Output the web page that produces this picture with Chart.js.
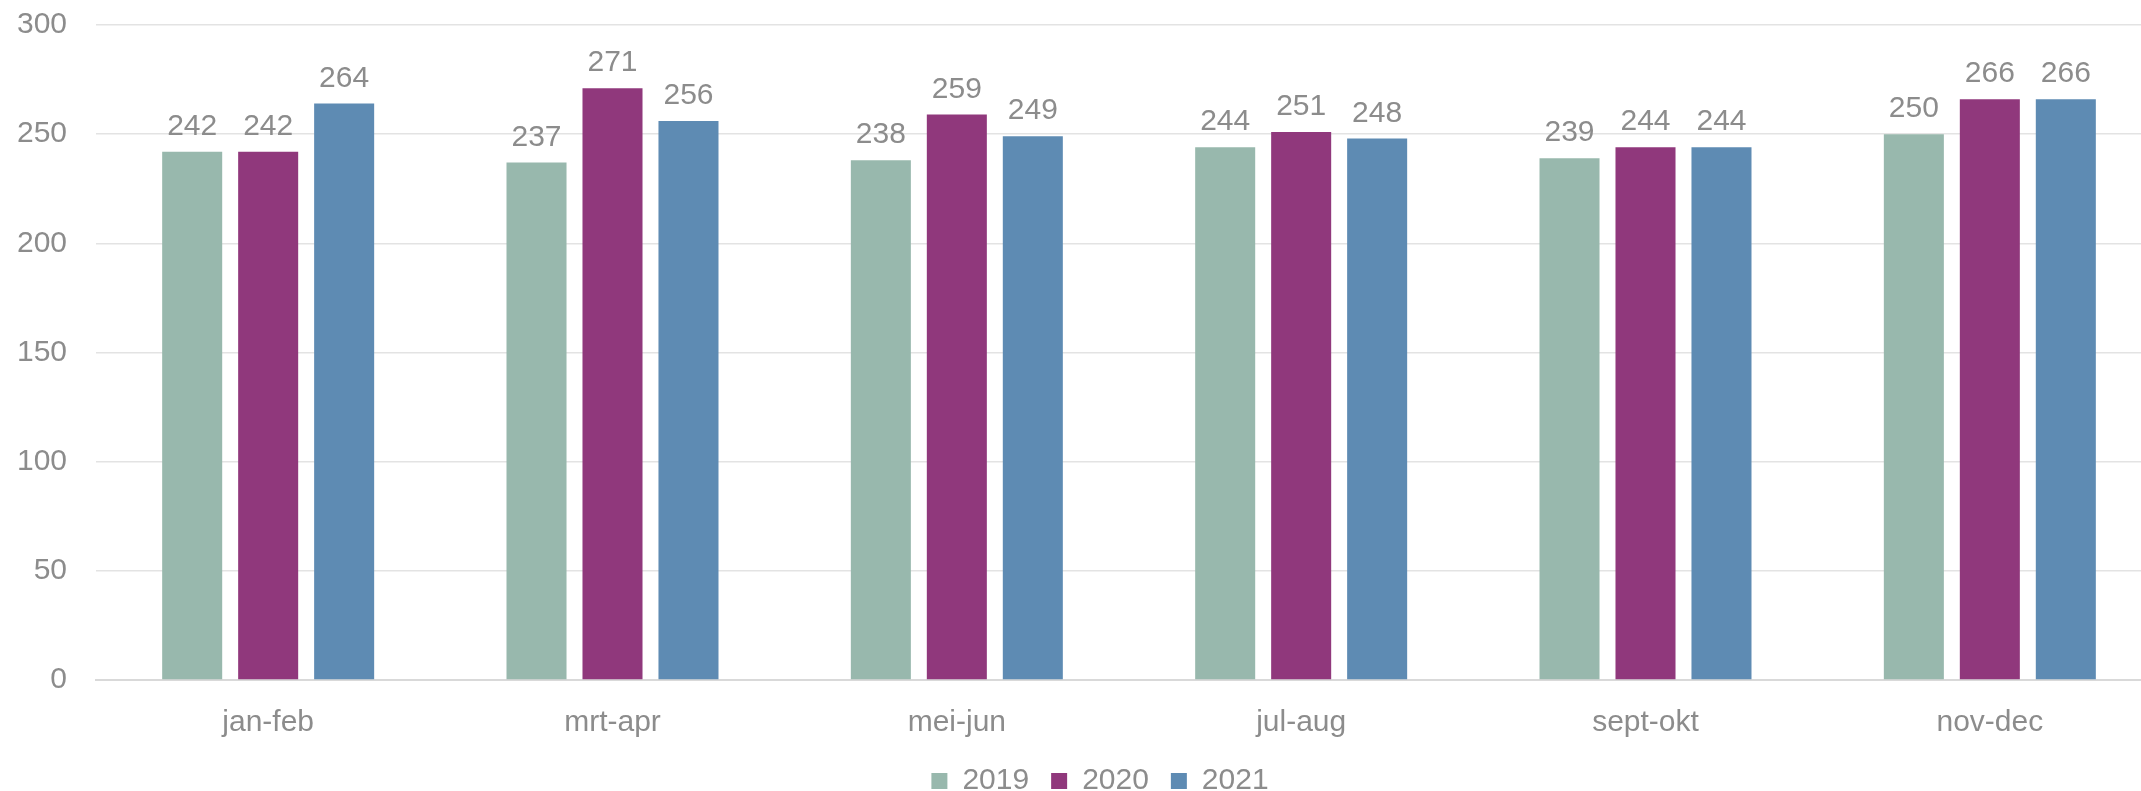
<!DOCTYPE html>
<html>
<head>
<meta charset="utf-8">
<script src="https://cdn.jsdelivr.net/npm/chart.js@4"></script>
<style>
  html, body { margin: 0; padding: 0; background: #fff; overflow: hidden; }
  #wrap { width: 2200px; height: 791px; position: relative; }
</style>
</head>
<body>
<div id="wrap"><canvas id="myChart"></canvas></div>
<script>
// chart data
const categories = ['jan-feb', 'mrt-apr', 'mei-jun', 'jul-aug', 'sept-okt', 'nov-dec'];
const seriesNames = ['2019', '2020', '2021'];
const values2019 = [242, 237, 238, 244, 239, 250];
const values2020 = [242, 271, 259, 251, 244, 266];
const values2021 = [264, 256, 249, 248, 244, 266];
const yTicks = [0, 50, 100, 150, 200, 250, 300];

const colors = ['#98b8ad', '#90387c', '#5e8bb3'];
const textColor = '#8c8c8c';
const fontFamily = 'Arial, "Liberation Sans", sans-serif';
const fontSize = 30;
const legendHeight = 47;

// draw the value above each bar, and nudge the legend into place
const barLabels = {
   id: 'barLabels',
   afterInit(chart) {
      const legend = chart.legend;
      const fit = legend.fit;
      legend.fit = function() {
         fit.call(this);
         this.height = legendHeight;
      };
   },
   afterLayout(chart) {
      chart.legend.left += 19;
      chart.legend.right += 19;
   },
   afterDatasetsDraw(chart) {
      const c = chart.ctx;
      c.save();
      c.font = fontSize + 'px ' + fontFamily;
      c.fillStyle = textColor;
      c.textAlign = 'center';
      c.textBaseline = 'alphabetic';
      chart.data.datasets.forEach((ds, i) => {
         chart.getDatasetMeta(i).data.forEach((bar, j) => {
            c.fillText(ds.data[j], bar.x, bar.y - 17);
         });
      });
      c.restore();
   }
};

const ctx = document.getElementById('myChart').getContext('2d');
new Chart(ctx, {
   type: 'bar',
   data: {
      labels: categories,
      datasets: [values2019, values2020, values2021].map((data, i) => ({
         label: seriesNames[i],
         data,
         backgroundColor: colors[i],
         categoryPercentage: 0.662,
         barPercentage: 0.79
      }))
   },
   plugins: [barLabels],
   options: {
      responsive: true,
      maintainAspectRatio: false,
      animation: false,
      layout: { padding: { top: 25, left: 0, right: 38, bottom: 0 } },
      scales: {
         x: {
            grid: { display: false },
            border: { color: '#d9d9d9', width: 2 },
            afterFit: axis => { axis.height = 64; },
            ticks: { color: textColor, font: { size: fontSize, family: fontFamily }, padding: 17 }
         },
         y: {
            min: 0,
            max: 300,
            afterBuildTicks: axis => { axis.ticks = yTicks.map(v => ({ value: v })); },
            afterFit: axis => { axis.width = 96; },
            grid: { color: '#e3e3e3', lineWidth: 1.5, drawTicks: true, tickLength: 29, tickColor: 'rgba(0,0,0,0)' },
            border: { display: false },
            ticks: { color: textColor, font: { size: fontSize, family: fontFamily }, padding: 0 }
         }
      },
      plugins: {
         legend: {
            position: 'bottom',
            labels: {
               color: textColor,
               font: { size: fontSize, family: fontFamily },
               boxWidth: 16,
               boxHeight: 16,
               padding: 22
            }
         },
         tooltip: { enabled: false }
      }
   }
});
</script>
</body>
</html>
